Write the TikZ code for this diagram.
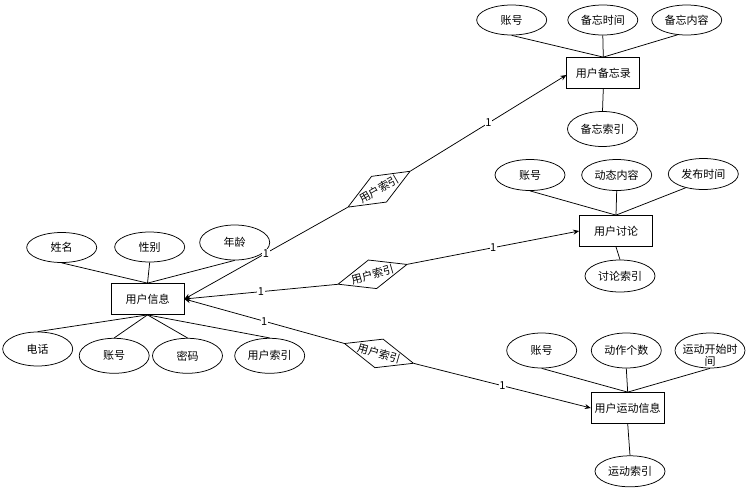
\documentclass[tikz,border=0pt]{standalone}
\usepackage{fontspec}
\setmainfont{Noto Sans CJK SC}
\usetikzlibrary{shapes.geometric,arrows.meta}
\begin{document}
\begin{tikzpicture}[x=1pt,y=-1pt, font=\fontsize{11}{13}\selectfont,
  ent/.style={draw,rectangle,minimum width=73pt,minimum height=31pt,inner sep=0pt,line width=0.75pt},
  attr/.style={draw,ellipse,minimum width=70pt,minimum height=#1,inner sep=0pt,line width=0.75pt},
  attr/.default=32pt,
  rel/.style={draw,diamond,minimum width=72pt,minimum height=30pt,inner sep=0pt,line width=0.75pt},
  ln/.style={line width=0.75pt},
  arr/.style={line width=0.75pt,-{Stealth[length=6pt,width=5pt]}},
  one/.style={fill=white,inner sep=0.6pt,font=\fontsize{11}{13}\selectfont}]
\useasboundingbox (0,0) rectangle (748,488);

% entities
\node[ent] (u) at (147.5,299) {用户信息};
\node[ent] (m) at (603.3,73) {用户备忘录};
\node[ent] (d) at (616,231) {用户讨论};
\node[ent] (s) at (627.7,408) {用户运动信息};

% attributes of 用户信息
\node[attr=30pt] (a1) at (61.7,247.5) {姓名};
\node[attr=30pt] (a2) at (149.7,247) {性别};
\node[attr=35pt] (a3) at (234.7,242.5) {年龄};
\node[attr=34pt] (a4) at (37.7,349) {电话};
\node[attr=35pt] (a5) at (114.2,355.8) {账号};
\node[attr=35pt] (a6) at (187.5,355.8) {密码};
\node[attr=35pt] (a7) at (269.7,355.8) {用户索引};

% attributes of 用户备忘录
\node[attr=30pt] (m1) at (511.7,20) {账号};
\node[attr=30pt] (m2) at (602.8,20) {备忘时间};
\node[attr=30pt] (m3) at (686.7,20) {备忘内容};
\node[attr=35pt] (m4) at (602.5,129) {备忘索引};

% attributes of 用户讨论
\node[attr=31pt] (d1) at (530,175) {账号};
\node[attr=31pt] (d2) at (616.7,175) {动态内容};
\node[attr=31pt] (d3) at (703.3,174) {发布时间};
\node[attr=32pt] (d4) at (620,276) {讨论索引};

% attributes of 用户运动信息
\node[attr=35pt] (s1) at (541.7,350.5) {账号};
\node[attr=35pt] (s2) at (626.3,350.5) {动作个数};
\node[attr=35pt] (s3) at (710,350.5) {};
\node[align=center,inner sep=0pt,anchor=north,font=\fontsize{11}{12}\selectfont] (s3t) at (710,344.5) {运动开始时\\间};
\node[attr=31pt] (s4) at (630,471.3) {运动索引};

% relationships
\node[rel,rotate=30] (r1) at (379,189.2) {};
\node[rotate=30,inner sep=0pt] (r1t) at (r1) {用户索引};
\node[rel,rotate=16] (r2) at (372.5,274.3) {};
\node[rotate=16,inner sep=0pt] (r2t) at (r2) {用户索引};
\node[rel,rotate=-16] (r3) at (379,353.4) {};
\node[rotate=-16,inner sep=0pt] (r3t) at (r3) {用户索引};

% attribute lines
\foreach \a in {a1,a2,a3} \draw[ln] (\a.south) -- (u.north);
\foreach \a in {a4,a5,a6,a7} \draw[ln] (\a.north) -- (u.south);
\draw[ln] (m1.south) -- (m.north);
\draw[ln] (m2.south) -- (m.north);
\draw[ln] (m3.238) -- (m.north);
\draw[ln] (m.south) -- (m4.north);
\draw[ln] (d1.south) -- (d.north);
\draw[ln] (d2.south) -- (d.north);
\draw[ln] (d3.218) -- (d.north);
\draw[ln] (d.south) -- (d4.north);
\draw[ln] (s1.south) -- (s.north);
\draw[ln] (s2.south) -- (s.north);
\draw[ln] (s3.south) -- (s.north);
\draw[ln] (s.south) -- (s4.north);

% relationship connectors
\draw[arr] (r1.west) -- node[one]{1} (u.east);
\draw[arr] (r1.east) -- node[one]{1} ([yshift=-2pt]m.west);
\draw[arr] (r2.west) -- node[one]{1} (u.east);
\draw[arr] (r2.east) -- node[one]{1} (d.west);
\draw[arr] (r3.west) -- node[one]{1} (u.east);
\draw[arr] (r3.east) -- node[one]{1} (s.west);
\end{tikzpicture}
\end{document}
